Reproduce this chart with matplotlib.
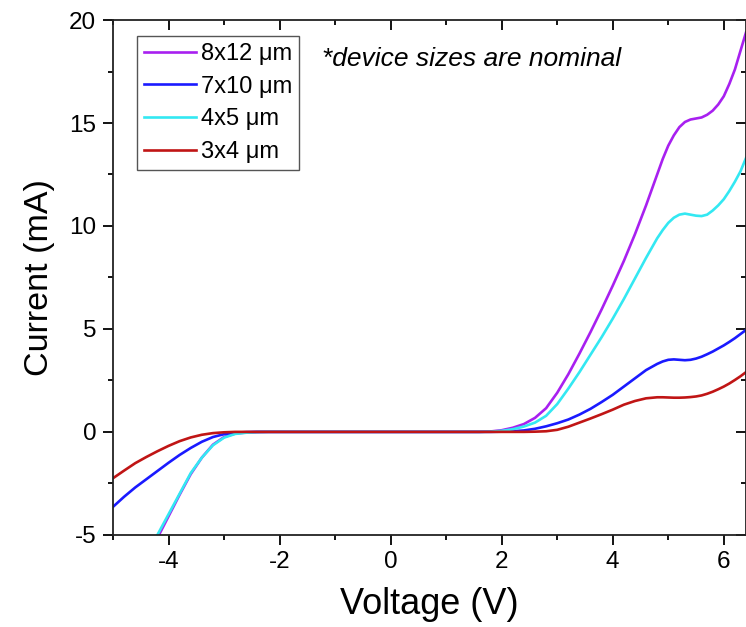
#!/usr/bin/env python3

import matplotlib
matplotlib.use('Agg')
from matplotlib import pyplot as plt
from matplotlib.ticker import MultipleLocator
import matplotlib.lines as mlines


VOLTAGE = [-5.0, -4.8, -4.6, -4.4, -4.2, -4.0, -3.8, -3.6, -3.4, -3.2, -3.0,
           -2.8, -2.6, -2.4, -2.2, -2.0, -1.0, 0.0, 1.0, 1.6, 1.8, 2.0, 2.2,
           2.4, 2.6, 2.8, 3.0, 3.2, 3.4, 3.6, 3.8, 4.0, 4.2, 4.4, 4.6, 4.8,
           4.9, 5.0, 5.1, 5.2, 5.3, 5.4, 5.5, 5.6, 5.7, 5.8, 5.9, 6.0, 6.1,
           6.2, 6.3, 6.4]

# current in mA for each device
I_8X12 = [-9.6, -8.6, -7.5, -6.3, -5.15, -4.1, -3.05, -2.05, -1.25, -0.62, -0.25,
          -0.08, -0.03, -0.01, 0.0, 0.0, 0.0, 0.0, 0.0, 0.0, 0.02, 0.08, 0.2,
          0.38, 0.68, 1.15, 1.9, 2.8, 3.8, 4.85, 5.95, 7.1, 8.3, 9.6, 11.0, 12.5,
          13.25, 13.9, 14.4, 14.8, 15.05, 15.17, 15.22, 15.27, 15.4, 15.6, 15.9, 16.3, 16.9,
          17.6, 18.5, 19.4]
I_7X10 = [-3.64, -3.15, -2.7, -2.3, -1.9, -1.5, -1.12, -0.78, -0.48, -0.25, -0.11,
          -0.04, -0.01, 0.0, 0.0, 0.0, 0.0, 0.0, 0.0, 0.0, 0.0, 0.01, 0.03,
          0.07, 0.15, 0.27, 0.42, 0.6, 0.84, 1.12, 1.45, 1.8, 2.2, 2.6, 3.0, 3.3,
          3.42, 3.5, 3.52, 3.5, 3.48, 3.5, 3.56, 3.65, 3.77, 3.9, 4.05, 4.2, 4.37,
          4.55, 4.75, 4.95]
I_4X5 = [-9.2, -8.2, -7.2, -6.1, -5.0, -4.0, -3.0, -2.0, -1.25, -0.65, -0.28,
         -0.1, -0.04, -0.01, 0.0, 0.0, 0.0, 0.0, 0.0, 0.0, 0.01, 0.05, 0.13,
         0.26, 0.45, 0.78, 1.35, 2.1, 2.9, 3.75, 4.6, 5.5, 6.45, 7.45, 8.45, 9.4,
         9.8, 10.15, 10.4, 10.55, 10.6, 10.55, 10.5, 10.48, 10.55, 10.75, 11.0, 11.3, 11.7,
         12.15, 12.65, 13.3]
I_3X4 = [-2.25, -1.88, -1.52, -1.22, -0.94, -0.68, -0.45, -0.27, -0.14, -0.06, -0.02,
         0.0, 0.0, 0.0, 0.0, 0.0, 0.0, 0.0, 0.0, 0.0, 0.0, 0.0, 0.0,
         0.0, 0.01, 0.03, 0.1, 0.25, 0.45, 0.65, 0.86, 1.08, 1.32, 1.5, 1.63, 1.68,
         1.68, 1.67, 1.66, 1.66, 1.67, 1.69, 1.72, 1.77, 1.85, 1.95, 2.07, 2.2, 2.35,
         2.52, 2.7, 2.9]

LABELS = ['8x12 \u03bcm', '7x10 \u03bcm', '4x5 \u03bcm', '3x4 \u03bcm']
COLORS = ['#a820f0', '#1a1aff', '#33e8f2', '#c01515']

plt.rcParams['font.family'] = ['Liberation Sans', 'DejaVu Sans']
plt.rcParams['axes.unicode_minus'] = False

fig = plt.figure(figsize=(7.46, 6.27), dpi=100)
ax = fig.add_axes([0.1515, 0.147, 0.8485, 0.821])

for cur, lab, col in zip([I_8X12, I_7X10, I_4X5, I_3X4], LABELS, COLORS):
    ax.plot(VOLTAGE, cur, color=col, lw=1.9, label=lab)

ax.set_xlim(-5, 6.4)
ax.set_ylim(-5, 20)

ax.xaxis.set_major_locator(MultipleLocator(2))
ax.xaxis.set_minor_locator(MultipleLocator(1))
ax.yaxis.set_major_locator(MultipleLocator(5))
ax.yaxis.set_minor_locator(MultipleLocator(2.5))

ax.tick_params(which='both', direction='out', width=1.3, labelsize=17.5,
               colors='black', pad=5)
ax.tick_params(which='major', length=7)
ax.tick_params(which='minor', length=3.6)
ax.tick_params(which='both', top=True, right=True)

# top/right ticks point inward, bottom/left outward
for t in ax.xaxis.get_major_ticks() + ax.xaxis.get_minor_ticks():
    t.tick2line.set_marker(mlines.TICKDOWN)
for t in ax.yaxis.get_major_ticks() + ax.yaxis.get_minor_ticks():
    t.tick2line.set_marker(mlines.TICKLEFT)

for sp in ax.spines.values():
    sp.set_linewidth(1.3)
    sp.set_color('#222222')

ax.set_xlabel('Voltage (V)', fontsize=26, labelpad=10)
ax.set_ylabel('Current (mA)', fontsize=24.5, labelpad=10)

leg = ax.legend(loc='upper left', bbox_to_anchor=(0.038, 0.969), borderaxespad=0,
                fontsize=17, handlelength=2.2, handletextpad=0.2,
                labelspacing=0.45, borderpad=0.3, fancybox=False, framealpha=1)
leg.get_frame().set_edgecolor('#555555')
leg.get_frame().set_linewidth(1.0)

ax.text(0.33, 0.924, '*device sizes are nominal', transform=ax.transAxes,
        fontsize=19, style='italic', va='center', ha='left')

fig.savefig('out.png', dpi=100)
